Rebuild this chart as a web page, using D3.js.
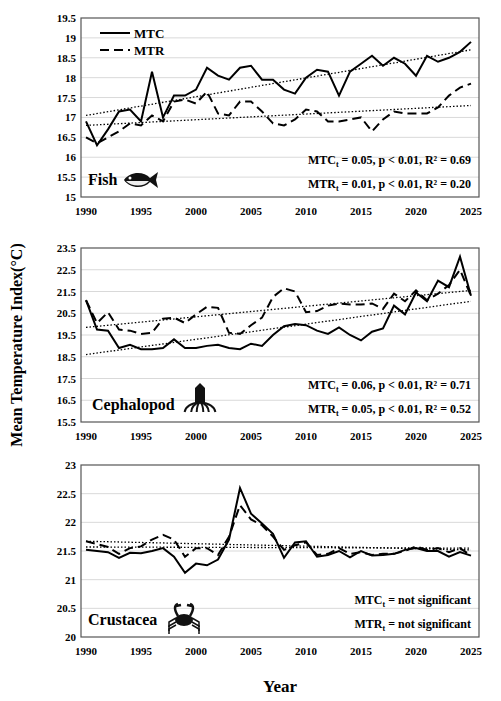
<!DOCTYPE html><html><head><meta charset="utf-8">
<script src="https://cdn.jsdelivr.net/npm/d3@7"></script>
<style>body{margin:0;background:#fff}text{font-family:"Liberation Serif",serif;font-weight:bold}</style></head><body>
<svg id="c" width="501" height="701"></svg>
<script>
const years = d3.range(1990, 2026);
const fishMTC = [16.9,16.3,16.7,17.15,17.2,16.9,18.15,17.0,17.55,17.55,17.7,18.25,18.05,17.95,18.25,18.3,17.95,17.95,17.7,17.6,18.0,18.2,18.15,17.55,18.15,18.35,18.55,18.3,18.5,18.35,18.05,18.55,18.4,18.5,18.65,18.9];
const fishMTR = [16.5,16.35,16.5,16.65,16.85,16.8,17.05,16.9,17.4,17.45,17.35,17.65,17.1,17.05,17.4,17.4,17.15,16.85,16.8,16.95,17.2,17.15,16.9,16.9,16.95,17.0,16.65,16.95,17.15,17.1,17.1,17.1,17.25,17.55,17.75,17.85];
const cephMTC = [21.1,19.75,19.7,18.9,19.05,18.85,18.85,18.9,19.3,18.9,18.9,19.0,19.05,18.9,18.85,19.1,19.0,19.5,19.9,20.0,19.95,19.7,19.55,19.85,19.5,19.25,19.65,19.8,20.85,20.45,21.45,21.05,22.0,21.7,23.1,21.3];
const cephMTR = [21.1,20.05,20.55,19.75,19.7,19.55,19.6,20.25,20.3,20.05,20.45,20.8,20.75,19.6,19.55,19.95,20.3,21.25,21.65,21.5,20.55,20.6,20.85,20.95,20.9,20.9,20.95,20.7,21.4,21.05,21.55,21.1,21.4,21.8,22.5,21.3];
const crusMTC = [21.52,21.5,21.48,21.38,21.47,21.46,21.5,21.55,21.4,21.12,21.28,21.25,21.35,21.7,22.6,22.15,21.98,21.8,21.38,21.65,21.67,21.4,21.43,21.5,21.39,21.5,21.42,21.43,21.45,21.52,21.55,21.5,21.5,21.4,21.48,21.42];
const crusMTR = [21.67,21.62,21.57,21.45,21.55,21.58,21.7,21.78,21.7,21.4,21.55,21.55,21.43,21.75,22.3,22.05,21.95,21.75,21.52,21.6,21.65,21.43,21.45,21.55,21.45,21.48,21.43,21.45,21.45,21.5,21.58,21.52,21.55,21.48,21.55,21.42];
const fishTrend = {MTC:[17.05,18.7], MTR:[16.8,17.3]};
const cephTrend = {MTC:[18.6,21.05], MTR:[19.85,21.55]};
const crusTrend = {MTC:[21.57,21.55], MTR:[21.67,21.52]};
const xTicks = [1990,1995,2000,2005,2010,2015,2020,2025];
const fishTicks = [15,15.5,16,16.5,17,17.5,18,18.5,19,19.5];
const cephTicks = [15.5,16.5,17.5,18.5,19.5,20.5,21.5,22.5,23.5];
const crusTicks = [20,20.5,21,21.5,22,22.5,23];

const svg = d3.select("#c");
const x = d3.scaleLinear().domain([1990,2025]).range([86,471]);
const L=81,R=479;
function panel(o){
  const y = d3.scaleLinear().domain(o.dom).range([o.bot,o.top]);
  const g = svg.append("g");
  g.selectAll(".gl").data(o.ticks.slice(1,-1)).join("line").attr("x1",L).attr("x2",R)
    .attr("y1",d=>y(d)).attr("y2",d=>y(d)).attr("stroke","#d9d9d9").attr("stroke-width",1);
  g.append("rect").attr("x",L).attr("y",o.top).attr("width",R-L).attr("height",o.bot-o.top)
    .attr("fill","none").attr("stroke","#555").attr("stroke-width",1.2);
  g.selectAll(".yt").data(o.ticks).join("text").attr("x",76).attr("y",d=>y(d)+4)
    .attr("text-anchor","end").attr("font-size",11).text(d=>d);
  g.selectAll(".xt").data(xTicks).join("text").attr("x",d=>x(d)).attr("y",o.bot+18)
    .attr("text-anchor","middle").attr("font-size",11).text(d=>d);
  const line = d3.line().x((d,i)=>x(years[i])).y(d=>y(d));
  [o.tr.MTC,o.tr.MTR].forEach(t=>g.append("line").attr("x1",x(1990)).attr("x2",x(2025))
    .attr("y1",y(t[0])).attr("y2",y(t[1])).attr("stroke","#000").attr("stroke-width",1.3).attr("stroke-dasharray","1.5,2"));
  g.append("path").attr("d",line(o.mtr)).attr("fill","none").attr("stroke","#000").attr("stroke-width",2).attr("stroke-dasharray","9,5");
  g.append("path").attr("d",line(o.mtc)).attr("fill","none").attr("stroke","#000").attr("stroke-width",2);
  g.append("text").attr("x",o.lx).attr("y",o.bot-12).attr("font-size",16).text(o.name);
  o.stats.forEach((s,i)=>{
    const t=g.append("text").attr("x",R-8).attr("y",o.bot-(i?9:33)).attr("text-anchor","end").attr("font-size",12);
    t.append("tspan").text(s[0]);t.append("tspan").attr("font-size",8).attr("dy",3).text("t");
    t.append("tspan").attr("dy",-3).text(s[1]);
  });
  return {g,y};
}
panel({dom:[15,19.5],top:18,bot:197,ticks:fishTicks,mtc:fishMTC,mtr:fishMTR,tr:fishTrend,name:"Fish",lx:88,
  stats:[["MTC"," = 0.05, p < 0.01, R² = 0.69"],["MTR"," = 0.01, p < 0.01, R² = 0.20"]]});
panel({dom:[15.5,23.5],top:248,bot:422,ticks:cephTicks,mtc:cephMTC,mtr:cephMTR,tr:cephTrend,name:"Cephalopod",lx:92,
  stats:[["MTC"," = 0.06, p < 0.01, R² = 0.71"],["MTR"," = 0.05, p < 0.01, R² = 0.52"]]});
panel({dom:[20,23],top:465,bot:637,ticks:crusTicks,mtc:crusMTC,mtr:crusMTR,tr:crusTrend,name:"Crustacea",lx:88,
  stats:[["MTC"," = not significant"],["MTR"," = not significant"]]});
[["MTC",null,33],["MTR","9,5",50]].forEach(l=>{
  svg.append("line").attr("x1",100).attr("x2",130).attr("y1",l[2]).attr("y2",l[2]).attr("stroke","#000").attr("stroke-width",2).attr("stroke-dasharray",l[1]);
  svg.append("text").attr("x",134).attr("y",l[2]+5).attr("font-size",13).text(l[0]);
});
const fi=svg.append("g").attr("transform","translate(138,180)");
fi.append("path").attr("d","M-14,0 C-8,-9 6,-9 12,-2 L20,-8 L18,0 L20,8 L12,2 C6,9 -8,9 -14,0Z").attr("fill","#111");
fi.append("path").attr("d","M-12,1 C-6,7 6,7 11,1Z").attr("fill","#eee");
fi.append("circle").attr("cx",-8).attr("cy",-2).attr("r",1.5).attr("fill","#fff");
const sq=svg.append("g").attr("transform","translate(200,400)");
sq.append("path").attr("d","M-5,-12 L0,-17 L5,-12 L5,2 L-5,2Z").attr("fill","#111");
[-14,-8,-3,3,8,14].forEach(d=>sq.append("path").attr("d",`M0,2 Q${d},4 ${d*1.1},12`).attr("fill","none").attr("stroke","#111").attr("stroke-width",2));
const cr=svg.append("g").attr("transform","translate(184,620)");
cr.append("ellipse").attr("rx",9).attr("ry",6).attr("fill","#111");
[-1,1].forEach(s=>{
  cr.append("path").attr("d",`M${s*6},-4 Q${s*12},-14 ${s*6},-16 M${s*8},-14 L${s*3},-15`).attr("fill","none").attr("stroke","#111").attr("stroke-width",2.5);
  [-2,2,5].forEach(yy=>cr.append("path").attr("d",`M${s*8},${yy} L${s*15},${yy+4} L${s*15},${yy+9}`).attr("fill","none").attr("stroke","#111").attr("stroke-width",1.5));
});
svg.append("text").attr("transform","translate(22,345) rotate(-90)").attr("text-anchor","middle").attr("font-size",16).text("Mean Temperature Index(°C)");
svg.append("text").attr("x",280).attr("y",692).attr("text-anchor","middle").attr("font-size",17).text("Year");
</script></body></html>
